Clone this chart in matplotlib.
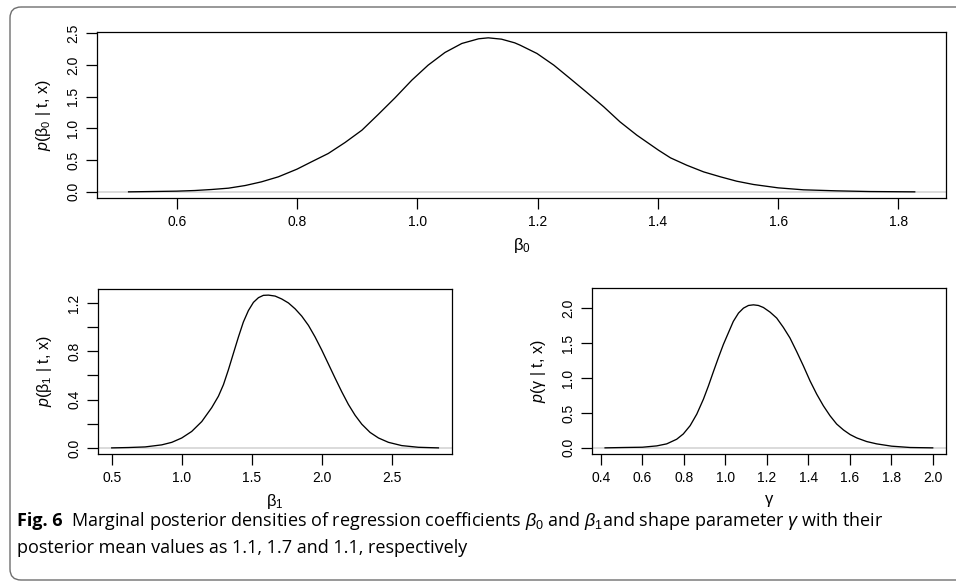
import numpy as np
import matplotlib.pyplot as plt
from matplotlib.patches import FancyBboxPatch

plt.rcParams['font.family'] = ['Liberation Sans', 'DejaVu Sans']
plt.rcParams['mathtext.fontset'] = 'custom'
plt.rcParams['mathtext.rm'] = 'Liberation Sans'
plt.rcParams['mathtext.it'] = 'Liberation Sans:italic'
plt.rcParams['mathtext.bf'] = 'Liberation Sans:bold'

# posterior density of beta0
b0_x = [0.52, 0.60, 0.630, 0.658, 0.686, 0.714, 0.741, 0.769, 0.80, 0.824, 0.852,
        0.880, 0.908, 0.935, 0.963, 0.991, 1.018, 1.046, 1.074, 1.102, 1.118,
        1.140, 1.162, 1.171, 1.199, 1.227, 1.254, 1.282, 1.310, 1.337, 1.365,
        1.401, 1.421, 1.448, 1.476, 1.504, 1.531, 1.559, 1.60, 1.642, 1.697,
        1.752, 1.827]
b0_y = [0.0, 0.011, 0.021, 0.037, 0.058, 0.10, 0.158, 0.237, 0.358, 0.473, 0.605,
        0.779, 0.973, 1.22, 1.483, 1.762, 1.998, 2.198, 2.34, 2.414, 2.429,
        2.408, 2.35, 2.313, 2.182, 1.998, 1.788, 1.567, 1.341, 1.104, 0.894,
        0.657, 0.536, 0.42, 0.315, 0.237, 0.168, 0.116, 0.063, 0.032, 0.016,
        0.005, 0.0]

# posterior density of beta1
b1_x = [0.5, 0.619, 0.738, 0.857, 0.929, 1.0, 1.071, 1.143, 1.214, 1.262, 1.298,
        1.333, 1.369, 1.405, 1.440, 1.476, 1.512, 1.548, 1.583, 1.619, 1.667,
        1.714, 1.762, 1.810, 1.857, 1.905, 1.952, 2.0, 2.048, 2.095, 2.143, 2.190,
        2.238, 2.286, 2.345, 2.405, 2.476, 2.571, 2.690, 2.833]
b1_y = [0.0, 0.003, 0.008, 0.025, 0.046, 0.082, 0.136, 0.218, 0.333, 0.428, 0.524,
        0.646, 0.783, 0.919, 1.042, 1.137, 1.205, 1.244, 1.263, 1.265, 1.257,
        1.233, 1.20, 1.151, 1.091, 1.014, 0.919, 0.81, 0.693, 0.578, 0.464, 0.36,
        0.27, 0.196, 0.128, 0.082, 0.046, 0.019, 0.005, 0.0]

# posterior density of gamma
g_x = [0.421, 0.509, 0.601, 0.670, 0.718, 0.766, 0.798, 0.831, 0.863, 0.895, 0.919,
       0.943, 0.967, 0.991, 1.015, 1.039, 1.064, 1.088, 1.112, 1.136, 1.160, 1.184,
       1.216, 1.248, 1.280, 1.312, 1.345, 1.377, 1.409, 1.441, 1.473, 1.505, 1.537,
       1.570, 1.602, 1.634, 1.682, 1.730, 1.802, 1.891, 2.0]
g_y = [0.0, 0.005, 0.009, 0.028, 0.057, 0.123, 0.199, 0.318, 0.483, 0.697, 0.886,
       1.09, 1.289, 1.479, 1.645, 1.81, 1.929, 2.0, 2.038, 2.047, 2.038, 2.009,
       1.943, 1.858, 1.725, 1.573, 1.374, 1.171, 0.957, 0.768, 0.602, 0.46, 0.341,
       0.256, 0.19, 0.142, 0.09, 0.057, 0.024, 0.005, 0.0]

b0_xticks = [0.6, 0.8, 1.0, 1.2, 1.4, 1.6, 1.8]
b0_yticks = [0.0, 0.5, 1.0, 1.5, 2.0, 2.5]
b1_xticks = [0.5, 1.0, 1.5, 2.0, 2.5]
b1_yticks = [0.0, 0.2, 0.4, 0.6, 0.8, 1.0, 1.2]
b1_ylabels = ['0.0', '', '0.4', '', '0.8', '', '1.2']
g_xticks = [0.4, 0.6, 0.8, 1.0, 1.2, 1.4, 1.6, 1.8, 2.0]
g_yticks = [0.0, 0.5, 1.0, 1.5, 2.0]

W, H = 956, 583
fig = plt.figure(figsize=(W / 100, H / 100), dpi=100)

# rounded caption frame
bg = fig.add_axes([0, 0, 1, 1], zorder=-5)
bg.set_xlim(0, W)
bg.set_ylim(H, 0)
bg.axis('off')
bg.add_patch(FancyBboxPatch((10, 7), 990, 573, boxstyle='round,pad=0,rounding_size=11',
                            fc='none', ec='#6e6e6e', lw=1.0))


def px_axes(l, t, r, b):
    return fig.add_axes([l / W, 1 - b / H, (r - l) / W, (b - t) / H])


def panel(ax, x, y, xlim, ylim, xticks, yticks, ylabels, xlabel, ylabel, wpx, hpx):
    ax.axhline(0, color='#dadada', lw=1.4, zorder=1)
    ax.plot(x, y, color='black', lw=0.95, zorder=2)
    ax.set_xlim(*xlim)
    ax.set_ylim(*ylim)
    ax.set_xticks(xticks)
    ax.set_xticklabels([f'{v:.1f}' for v in xticks])
    ax.set_yticks(yticks)
    if ylabels is None:
        ylabels = [f'{v:.1f}' for v in yticks]
    ax.set_yticklabels(ylabels, rotation=90, va='center')
    ax.tick_params(direction='out', length=8, width=0.9, labelsize=10, pad=4, color='black')
    for s in ax.spines.values():
        s.set_linewidth(0.9)
    ax.set_xlabel(xlabel, fontsize=12)
    ax.xaxis.set_label_coords(0.5, -38 / hpx)
    ax.set_ylabel(ylabel, fontsize=11.5)
    ax.yaxis.set_label_coords(-44 / wpx, 0.5)


ax0 = px_axes(97, 32, 946, 198)
panel(ax0, b0_x, b0_y, (0.4675, 1.879), (-0.097, 2.521), b0_xticks, b0_yticks, None,
      'β$_0$', '$p$(β$_0$ | t, x)', 849, 166)

ax1 = px_axes(98, 289, 452, 454)
panel(ax1, b1_x, b1_y, (0.402, 2.93), (-0.0506, 1.3156), b1_xticks, b1_yticks, b1_ylabels,
      'β$_1$', '$p$(β$_1$ | t, x)', 354, 165)

ax2 = px_axes(592, 288, 946, 454)
panel(ax2, g_x, g_y, (0.358, 2.064), (-0.088, 2.288), g_xticks, g_yticks, None,
      'γ', '$p$(γ | t, x)', 354, 166)

# caption
cap_font = ['Open Sans', 'DejaVu Sans']
cap_size = 13
t_fig = fig.text(17 / W, 1 - 525.5 / H, 'Fig. 6', family=cap_font, weight='bold',
                 fontsize=cap_size, va='baseline', ha='left')
r = fig.canvas.get_renderer()
bb = t_fig.get_window_extent(renderer=r)
fig.text((bb.x1 + 8) / W, 1 - 525.5 / H,
         r'Marginal posterior densities of regression coefficients $\beta_0$ and $\beta_1$and '
         r'shape parameter $\gamma$ with their',
         family=cap_font, fontsize=cap_size, va='baseline', ha='left')
fig.text(17 / W, 1 - 553 / H, 'posterior mean values as 1.1, 1.7 and 1.1, respectively',
         family=cap_font, fontsize=cap_size, va='baseline', ha='left')

fig.savefig('out.png', dpi=100)
